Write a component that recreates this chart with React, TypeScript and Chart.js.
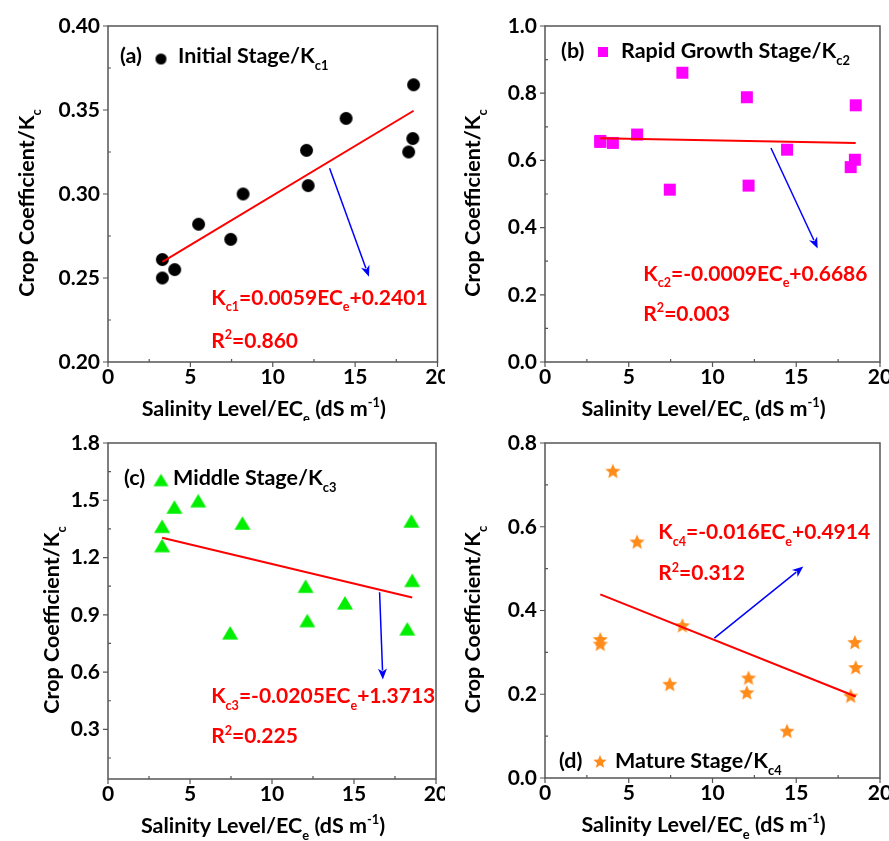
import React, { useEffect, useRef } from 'react';
import { Chart, registerables } from 'chart.js';
Chart.register(...registerables);

const FONT = 'Lato, "Open Sans", sans-serif';

// ---- data ----
const salinity = [3.3, 3.3, 4.05, 5.5, 7.45, 8.2, 12.05, 12.15, 14.45, 18.25, 18.5, 18.55];
const kc1 = [0.261, 0.25, 0.255, 0.282, 0.273, 0.3, 0.326, 0.305, 0.345, 0.325, 0.333, 0.365];
const kc2 = [0.658, 0.655, 0.652, 0.677, 0.513, 0.861, 0.788, 0.525, 0.632, 0.58, 0.602, 0.764];
const kc3 = [1.364, 1.263, 1.465, 1.498, 0.806, 1.381, 1.05, 0.87, 0.963, 0.827, 1.392, 1.081];
const kc4 = [0.332, 0.321, 0.734, 0.565, 0.225, 0.365, 0.205, 0.24, 0.113, 0.197, 0.325, 0.265];

const slopes = [0.0059, -0.0009, -0.0205, -0.016];
const intercepts = [0.2401, 0.6686, 1.3713, 0.4914];
const slopeText = ['0.0059', '-0.0009', '-0.0205', '-0.016'];
const interceptText = ['0.2401', '0.6686', '1.3713', '0.4914'];
const r2Text = ['0.860', '0.003', '0.225', '0.312'];
const stageNames = ['Initial Stage', 'Rapid Growth Stage', 'Middle Stage', 'Mature Stage'];
const panelLetters = ['(a)', '(b)', '(c)', '(d)'];

const xTicks = [0, 5, 10, 15, 20];
const xMinor = [2.5, 7.5, 12.5, 17.5];
const yTicksA = [0.2, 0.25, 0.3, 0.35, 0.4];
const yMinorA = [0.225, 0.275, 0.325, 0.375];
const yTicksB = [0, 0.2, 0.4, 0.6, 0.8, 1.0];
const yMinorB = [0.1, 0.3, 0.5, 0.7, 0.9];
const yTicksC = [0.3, 0.6, 0.9, 1.2, 1.5, 1.8];
const yMinorC = [0.15, 0.45, 0.75, 1.05, 1.35, 1.65];
const yTicksD = [0, 0.2, 0.4, 0.6, 0.8];
const yMinorD = [0.1, 0.3, 0.5, 0.7];

type Part = [string, string];

function fontOf(fs: number) {
  return `bold ${fs}px ${FONT}`;
}

function richWidth(ctx: CanvasRenderingContext2D, parts: Part[], fs: number) {
  let w = 0;
  for (const [t, k] of parts) {
    ctx.font = fontOf(k ? fs * 0.6 : fs);
    w += ctx.measureText(t).width;
  }
  return w;
}

function drawRich(ctx: CanvasRenderingContext2D, parts: Part[], x: number, base: number, fs: number, color: string) {
  ctx.fillStyle = color;
  ctx.textAlign = 'left';
  ctx.textBaseline = 'alphabetic';
  let cx = x;
  for (const [t, k] of parts) {
    const f = k ? fs * 0.6 : fs;
    ctx.font = fontOf(f);
    let y = base;
    if (k === 'sub') y = base + fs * 0.32;
    if (k === 'sup') y = base - fs * 0.4;
    ctx.fillText(t, cx, y);
    cx += ctx.measureText(t).width;
  }
}

function makeMarker(shape: string, color: string, size: number) {
  const c = document.createElement('canvas');
  const s = Math.ceil(size) + 2;
  c.width = s;
  c.height = s;
  const g = c.getContext('2d')!;
  g.fillStyle = color;
  const cx = s / 2, cy = s / 2, r = size / 2;
  g.beginPath();
  if (shape === 'circle') g.arc(cx, cy, r, 0, Math.PI * 2);
  else if (shape === 'square') g.rect(cx - r, cy - r, size, size);
  else if (shape === 'triangle') {
    const h = size * 0.84;
    g.moveTo(cx, cy - h / 2);
    g.lineTo(cx + r, cy + h / 2);
    g.lineTo(cx - r, cy + h / 2);
    g.closePath();
  } else if (shape === 'star') {
    const ri = r * 0.45;
    for (let i = 0; i < 10; i++) {
      const a = -Math.PI / 2 + (i * Math.PI) / 5;
      const rr = i % 2 === 0 ? r : ri;
      const px = cx + rr * Math.cos(a), py = cy + 1 + rr * Math.sin(a);
      if (i === 0) g.moveTo(px, py); else g.lineTo(px, py);
    }
    g.closePath();
  }
  g.fill();
  return c;
}

interface Panel {
  left: number; top: number;
  yW: number; padTop: number; padRight: number; xH: number;
  ys: number[]; yMin: number; yMax: number; yTicks: number[]; yMinor: number[]; dec: number;
  shape: string; color: string; size: number; legSize: number;
  idx: number;
  titleX: number;
  leg: { lx: number; ly: number; mx: number; my: number; tx: number };
  eq: { x: number; y1: number; y2: number };
  arrow: [number, number, number, number];
}

const panels: Panel[] = [
  {
    left: 0, top: 0, yW: 108, padTop: 26, padRight: 2, xH: 59,
    ys: kc1, yMin: 0.2, yMax: 0.4, yTicks: yTicksA, yMinor: yMinorA, dec: 2,
    shape: 'circle', color: '#000000', size: 13, legSize: 11, idx: 0, titleX: 26,
    leg: { lx: 12, ly: 29, mx: 53, my: 33, tx: 70 },
    eq: { x: 6.27, y1: 0.2387, y2: 0.213 },
    arrow: [13.45, 0.3153, 15.84, 0.2508],
  },
  {
    left: 444, top: 0, yW: 101, padTop: 26, padRight: 9, xH: 59,
    ys: kc2, yMin: 0, yMax: 1.0, yTicks: yTicksB, yMinor: yMinorB, dec: 1,
    shape: 'square', color: '#ff00ff', size: 12, legSize: 10, idx: 1, titleX: 28,
    leg: { lx: 16, ly: 24, mx: 58, my: 26, tx: 76 },
    eq: { x: 5.87, y1: 0.265, y2: 0.146 },
    arrow: [13.49, 0.637, 16.28, 0.338],
  },
  {
    left: 0, top: 420, yW: 108, padTop: 23, padRight: 2, xH: 62,
    ys: kc3, yMin: 0.04, yMax: 1.8, yTicks: yTicksC, yMinor: yMinorC, dec: 1,
    shape: 'triangle', color: '#00ee00', size: 16, legSize: 15, idx: 2, titleX: 51,
    leg: { lx: 16, ly: 34, mx: 53, my: 37, tx: 65 },
    eq: { x: 6.29, y1: 0.478, y2: 0.268 },
    arrow: [16.56, 1.018, 16.76, 0.561],
  },
  {
    left: 444, top: 420, yW: 101, padTop: 23, padRight: 9, xH: 63,
    ys: kc4, yMin: 0, yMax: 0.8, yTicks: yTicksD, yMinor: yMinorD, dec: 1,
    shape: 'star', color: '#ff8c1a', size: 16, legSize: 14, idx: 3, titleX: 28,
    leg: { lx: 14, ly: 317, mx: 55, my: 318, tx: 70 },
    eq: { x: 6.76, y1: 0.589, y2: 0.491 },
    arrow: [10.11, 0.334, 15.42, 0.505],
  },
];

const CAP = 0.36;

function makeChart(canvas: HTMLCanvasElement, p: Panel) {
  const i = p.idx;
  const pts = salinity.map((x, k) => ({ x, y: p.ys[k] }));
  const x0 = Math.min(...salinity), x1 = Math.max(...salinity);
  const fit = [x0, x1].map((x) => ({ x, y: slopes[i] * x + intercepts[i] }));
  const marker = makeMarker(p.shape, p.color, p.size);
  const legMarker = makeMarker(p.shape, p.color, p.legSize);
  const sub = 'c' + (i + 1);

  const deco = {
    id: 'deco' + i,
    afterDatasetsDraw(chart: any) {
      const ctx: CanvasRenderingContext2D = chart.ctx;
      const a = chart.chartArea;
      const xs = chart.scales.x, ysc = chart.scales.y;
      ctx.save();
      // frame
      ctx.strokeStyle = '#555';
      ctx.lineWidth = 1.5;
      ctx.strokeRect(a.left, a.top, a.right - a.left, a.bottom - a.top);
      ctx.lineWidth = 1.2;
      ctx.beginPath();
      for (const v of xTicks) {
        const px = xs.getPixelForValue(v);
        ctx.moveTo(px, a.bottom); ctx.lineTo(px, a.bottom + 5);
      }
      for (const v of xMinor) {
        const px = xs.getPixelForValue(v);
        ctx.moveTo(px, a.bottom); ctx.lineTo(px, a.bottom - 3);
      }
      for (const v of p.yTicks) {
        const py = ysc.getPixelForValue(v);
        ctx.moveTo(a.left, py); ctx.lineTo(a.left - 5, py);
      }
      for (const v of p.yMinor) {
        const py = ysc.getPixelForValue(v);
        ctx.moveTo(a.left, py); ctx.lineTo(a.left + 3, py);
      }
      ctx.stroke();

      // arrow
      const [ax0, ay0, ax1, ay1] = p.arrow;
      const sx = xs.getPixelForValue(ax0), sy = ysc.getPixelForValue(ay0);
      const ex = xs.getPixelForValue(ax1), ey = ysc.getPixelForValue(ay1);
      const ang = Math.atan2(ey - sy, ex - sx);
      const hl = 11, hw = 4.5;
      ctx.strokeStyle = '#0000ff';
      ctx.fillStyle = '#0000ff';
      ctx.lineWidth = 1.5;
      ctx.beginPath();
      ctx.moveTo(sx, sy);
      ctx.lineTo(ex - Math.cos(ang) * (hl - 2), ey - Math.sin(ang) * (hl - 2));
      ctx.stroke();
      ctx.beginPath();
      ctx.moveTo(ex, ey);
      ctx.lineTo(ex - Math.cos(ang) * hl - Math.sin(ang) * hw, ey - Math.sin(ang) * hl + Math.cos(ang) * hw);
      ctx.lineTo(ex - Math.cos(ang) * (hl - 3), ey - Math.sin(ang) * (hl - 3));
      ctx.lineTo(ex - Math.cos(ang) * hl + Math.sin(ang) * hw, ey - Math.sin(ang) * hl - Math.cos(ang) * hw);
      ctx.closePath();
      ctx.fill();

      // equation
      const efs = 21;
      const tx = xs.getPixelForValue(p.eq.x);
      const eq: Part[] = [['K', ''], [sub, 'sub'], ['=' + slopeText[i] + 'EC', ''], ['e', 'sub'], ['+' + interceptText[i], '']];
      drawRich(ctx, eq, tx, ysc.getPixelForValue(p.eq.y1) + efs * CAP, efs, '#ff0000');
      const r2: Part[] = [['R', ''], ['2', 'sup'], ['=' + r2Text[i], '']];
      drawRich(ctx, r2, tx, ysc.getPixelForValue(p.eq.y2) + efs * CAP, efs, '#ff0000');

      // legend
      const lfs = 21.5;
      drawRich(ctx, [[panelLetters[i], '']], a.left + p.leg.lx, a.top + p.leg.ly + lfs * CAP, lfs, '#000');
      ctx.drawImage(legMarker, a.left + p.leg.mx - legMarker.width / 2, a.top + p.leg.my - legMarker.height / 2);
      drawRich(ctx, [[stageNames[i] + '/K', ''], [sub, 'sub']], a.left + p.leg.tx, a.top + p.leg.ly + lfs * CAP, lfs, '#000');
      ctx.restore();
    },
    afterDraw(chart: any) {
      const ctx: CanvasRenderingContext2D = chart.ctx;
      const a = chart.chartArea;
      const tfs = 21.5;
      ctx.save();
      // x title
      const xt: Part[] = [['Salinity Level/EC', ''], ['e', 'sub'], [' (dS m', ''], ['-1', 'sup'], [')', '']];
      const xw = richWidth(ctx, xt, tfs);
      const xc = (a.left + a.right) / 2 - 9;
      drawRich(ctx, xt, xc - xw / 2, a.bottom + 46 + tfs * CAP, tfs, '#000');
      // y title
      const yt: Part[] = [['Crop Coefficient/K', ''], ['c', 'sub']];
      const yw = richWidth(ctx, yt, tfs);
      const yc = (a.top + a.bottom) / 2 + 9;
      ctx.translate(p.titleX + tfs * CAP, yc);
      ctx.rotate(-Math.PI / 2);
      drawRich(ctx, yt, -yw / 2, 0, tfs, '#000');
      ctx.restore();
    },
  };

  return new Chart(canvas, {
    type: 'scatter',
    data: {
      datasets: [
        {
          data: fit, showLine: true, borderColor: '#ff0000', borderWidth: 2,
          pointRadius: 0, order: 0,
        } as any,
        {
          data: pts, pointStyle: marker as any, pointRadius: p.size / 2,
          order: 1,
        } as any,
      ],
    },
    options: {
      responsive: false,
      animation: false,
      layout: { padding: { left: 0, top: p.padTop, right: p.padRight, bottom: 0 } },
      plugins: { legend: { display: false }, tooltip: { enabled: false } },
      scales: {
        x: {
          type: 'linear', min: 0, max: 20,
          grid: { display: false, drawTicks: false },
          border: { display: false },
          ticks: {
            stepSize: 5, padding: 3, color: '#000',
            font: { family: FONT, size: 21, weight: 'bold' },
            maxRotation: 0,
          },
          afterBuildTicks(s: any) { s.ticks = xTicks.map((v) => ({ value: v })); },
          afterFit(s: any) { s.height = p.xH; s.paddingLeft = 0; s.paddingRight = 0; },
        },
        y: {
          type: 'linear', min: p.yMin, max: p.yMax,
          grid: { display: false, drawTicks: false },
          border: { display: false },
          ticks: {
            padding: 8, color: '#000',
            font: { family: FONT, size: 21, weight: 'bold' },
            callback: (v: any) => Number(v).toFixed(p.dec),
          },
          afterBuildTicks(s: any) { s.ticks = p.yTicks.map((v) => ({ value: v })); },
          afterFit(s: any) { s.width = p.yW; s.paddingTop = 0; s.paddingBottom = 0; },
        },
      },
    } as any,
    plugins: [deco],
  });
}

export default function App() {
  const refs = useRef<(HTMLCanvasElement | null)[]>([]);
  useEffect(() => {
    document.body.style.margin = '0';
    const charts = panels.map((p, k) => makeChart(refs.current[k]!, p));
    return () => charts.forEach((c) => c.destroy());
  }, []);
  return (
    <div style={{ position: 'relative', width: 889, height: 841, background: '#fff', overflow: 'hidden' }}>
      {panels.map((p, k) => (
        <canvas
          key={k}
          ref={(el) => { refs.current[k] = el; }}
          width={445}
          height={421}
          style={{ position: 'absolute', left: p.left, top: p.top, width: 445, height: 421 }}
        />
      ))}
    </div>
  );
}
